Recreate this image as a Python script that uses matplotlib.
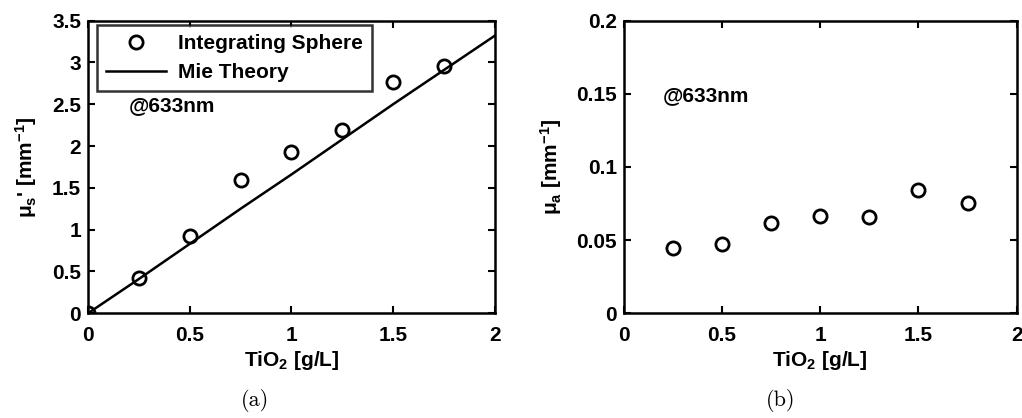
import matplotlib
matplotlib.use("Agg")
import matplotlib.pyplot as plt
import numpy as np

# concentrations and measured values
tio2 = [0, 0.25, 0.5, 0.75, 1.0, 1.25, 1.5, 1.75]
mus_sphere = [0.0, 0.42, 0.92, 1.60, 1.93, 2.19, 2.77, 2.96]

tio2_mie = [0, 0.25, 0.5, 0.75, 1.0, 1.25, 1.5, 1.75, 2.0]
mus_mie = [0.0, 0.41, 0.83, 1.25, 1.66, 2.08, 2.50, 2.91, 3.32]

tio2_abs = [0.25, 0.5, 0.75, 1.0, 1.25, 1.5, 1.75]
mua_sphere = [0.0445, 0.0475, 0.062, 0.0665, 0.0655, 0.0843, 0.0752]

plt.rcParams.update({
    "font.family": "Liberation Sans",
    "font.weight": "bold",
    "font.size": 15,
    "mathtext.fontset": "custom",
    "mathtext.rm": "Liberation Sans:bold",
    "mathtext.it": "Liberation Sans:bold",
    "mathtext.bf": "Liberation Sans:bold",
    "axes.linewidth": 1.8,
})

fig = plt.figure(figsize=(10.22, 4.18), dpi=100)
ax1 = fig.add_axes([0.0861, 0.2505, 0.398, 0.700])
ax2 = fig.add_axes([0.6103, 0.2505, 0.3845, 0.700])

mk = dict(marker="o", linestyle="none", markersize=9.5, markerfacecolor="none",
          markeredgecolor="black", markeredgewidth=2.0)

ax1.plot(tio2, mus_sphere, label="Integrating Sphere", **mk)
ax1.plot(tio2_mie, mus_mie, color="black", lw=1.8, label="Mie Theory")
ax1.set_xlim(0, 2)
ax1.set_ylim(0, 3.5)
ax1.set_xticks([0, 0.5, 1, 1.5, 2])
ax1.set_xticklabels(["0", "0.5", "1", "1.5", "2"])
ax1.set_yticks([0, 0.5, 1, 1.5, 2, 2.5, 3, 3.5])
ax1.set_yticklabels(["0", "0.5", "1", "1.5", "2", "2.5", "3", "3.5"])
ax1.set_xlabel("TiO$_2$ [g/L]", fontweight="bold", labelpad=3)
ax1.set_ylabel("μ$_s$' [mm$^{-1}$]", fontweight="bold", labelpad=9)
ax1.text(0.2, 2.49, "@633nm", va="center", ha="left", fontweight="bold")
leg = ax1.legend(loc="upper left", frameon=True, fancybox=False, edgecolor="black",
                 handlelength=2.9, borderpad=0.45, labelspacing=0.45, handletextpad=0.55,
                 bbox_to_anchor=(0.021, 0.985), borderaxespad=0.0)
leg.get_frame().set_linewidth(1.8)

ax2.plot(tio2_abs, mua_sphere, **mk)
ax2.set_xlim(0, 2)
ax2.set_ylim(0, 0.2)
ax2.set_xticks([0, 0.5, 1, 1.5, 2])
ax2.set_xticklabels(["0", "0.5", "1", "1.5", "2"])
ax2.set_yticks([0, 0.05, 0.1, 0.15, 0.2])
ax2.set_yticklabels(["0", "0.05", "0.1", "0.15", "0.2"])
ax2.set_xlabel("TiO$_2$ [g/L]", fontweight="bold", labelpad=3)
ax2.set_ylabel("μ$_a$ [mm$^{-1}$]", fontweight="bold", labelpad=9)
ax2.text(0.2, 0.1485, "@633nm", va="center", ha="left", fontweight="bold")

for ax in (ax1, ax2):
    ax.tick_params(direction="in", top=True, right=True, length=5, width=1.5,
                   labelsize=15)
    ax.tick_params(axis="x", pad=9)
    ax.tick_params(axis="y", pad=5)

fig.text(0.2495, 0.043, "(a)", ha="center", va="center", family="cmr10", fontsize=16)
fig.text(0.764, 0.043, "(b)", ha="center", va="center", family="cmr10", fontsize=16)

fig.savefig("out.png", dpi=100)
